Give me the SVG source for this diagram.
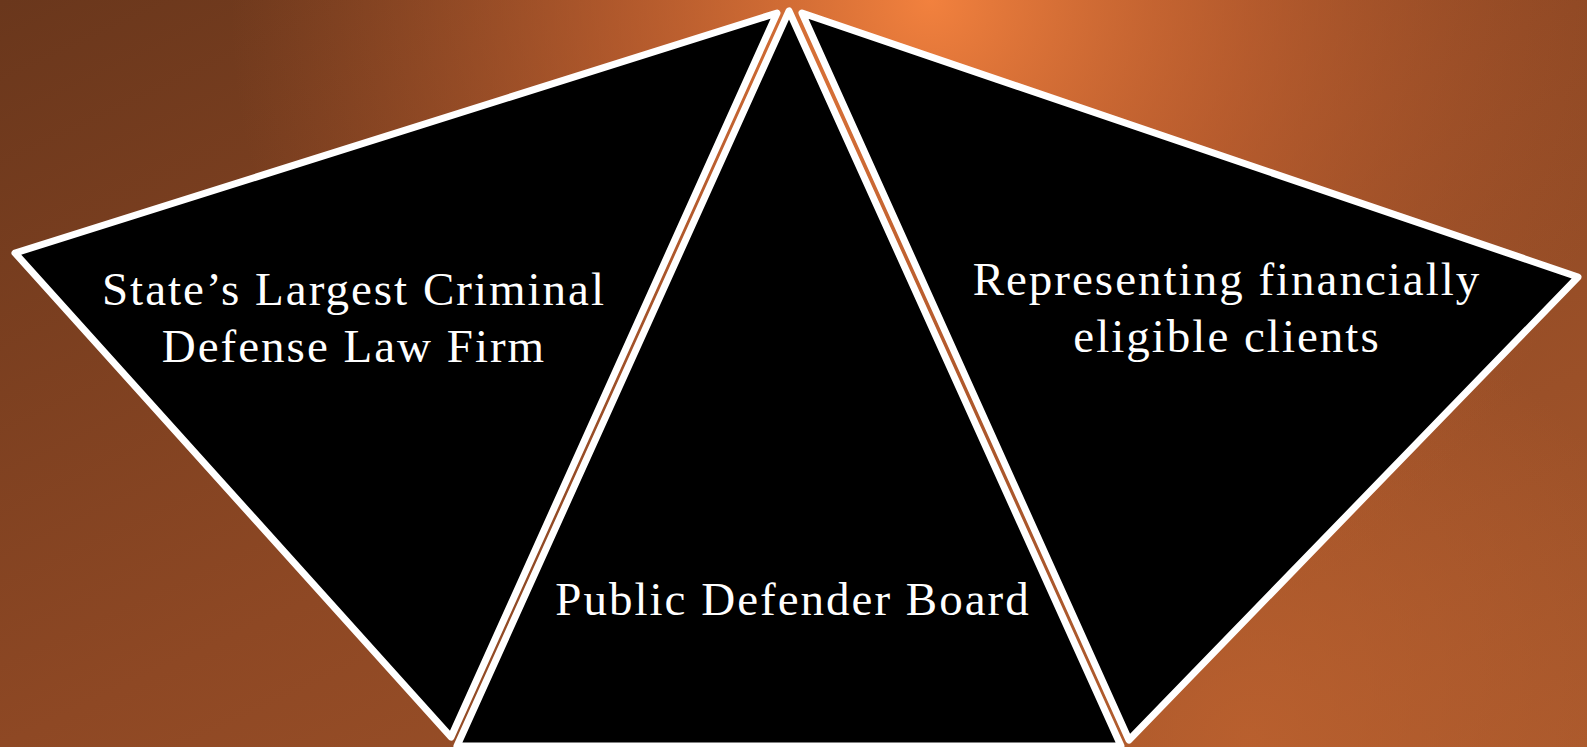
<svg xmlns="http://www.w3.org/2000/svg" width="1587" height="747" viewBox="0 0 1587 747">
  <defs>
    <linearGradient id="bgLin" x1="0" y1="0" x2="1" y2="1">
      <stop offset="0" stop-color="#6A371C"/>
      <stop offset="0.5" stop-color="#8E4824"/>
      <stop offset="1" stop-color="#A8582C"/>
    </linearGradient>
    <radialGradient id="glow" cx="930" cy="0" r="700" gradientUnits="userSpaceOnUse">
      <stop offset="0" stop-color="#F2813E" stop-opacity="1"/>
      <stop offset="0.45" stop-color="#D56A34" stop-opacity="0.6"/>
      <stop offset="1" stop-color="#B85C2E" stop-opacity="0"/>
    </radialGradient>
    <radialGradient id="glow2" cx="1250" cy="740" r="450" gradientUnits="userSpaceOnUse">
      <stop offset="0" stop-color="#BE622F" stop-opacity="0.8"/>
      <stop offset="1" stop-color="#BE622F" stop-opacity="0"/>
    </radialGradient>
    <style>
      .tri { fill: #000000; stroke: #FFFFFF; stroke-width: 7; stroke-linejoin: round; }
      .lbl { fill: #FFFFFF; font-family: "Liberation Serif", "DejaVu Serif", serif; font-size: 47px; letter-spacing: 2px; text-anchor: middle; }
    </style>
  </defs>
  <rect x="0" y="0" width="1587" height="747" fill="url(#bgLin)"/>
  <rect x="0" y="0" width="1587" height="747" fill="url(#glow2)"/>
  <rect x="0" y="0" width="1587" height="747" fill="url(#glow)"/>
  <g id="node-left">
    <polygon class="tri" points="15,253 777,13 451,737"/>
    <text class="lbl" x="354" y="305">State’s Largest Criminal</text>
    <text class="lbl" x="354" y="362">Defense Law Firm</text>
  </g>
  <g id="node-right">
    <polygon class="tri" points="802,13 1578,277 1129,740"/>
    <text class="lbl" x="1227" y="295">Representing financially</text>
    <text class="lbl" x="1227" y="352">eligible clients</text>
  </g>
  <g id="node-center">
    <polygon class="tri" points="789,11 457,746 1121,746"/>
    <text class="lbl" x="793" y="615">Public Defender Board</text>
  </g>
  <g id="connectors"></g>
</svg>
